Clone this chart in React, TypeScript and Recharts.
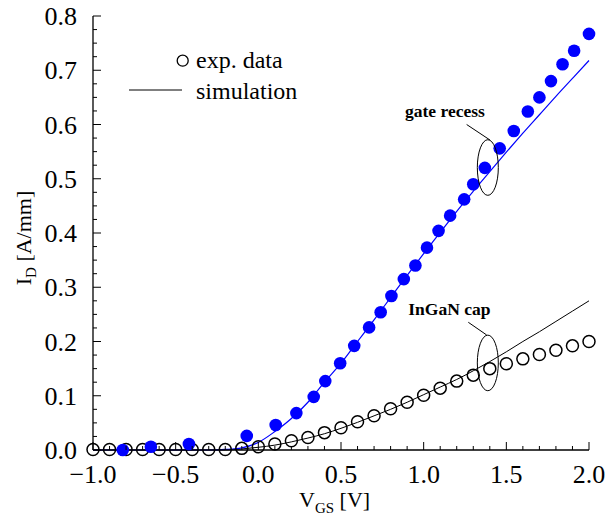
import React from 'react';
import {
  ComposedChart,
  Line,
  Scatter,
  XAxis,
  YAxis,
  ReferenceDot,
  ReferenceLine,
  Legend,
  Label,
} from 'recharts';

const FONT = '"Liberation Serif", "Times New Roman", serif';

// V_GS grid used by the simulation curves and the InGaN cap measurement
const simV = [
  -1.0, -0.9, -0.8, -0.7, -0.6, -0.5, -0.4, -0.3, -0.2, -0.1, 0.0, 0.1, 0.2, 0.3, 0.4, 0.5,
  0.6, 0.7, 0.8, 0.9, 1.0, 1.1, 1.2, 1.3, 1.4, 1.5, 1.6, 1.7, 1.8, 1.9, 2.0,
];
const gateRecessSim = [
  0, 0, 0, 0, 0, 0, 0, 0, 0.001, 0.004, 0.014, 0.034, 0.058, 0.088, 0.125, 0.16, 0.2, 0.24,
  0.281, 0.322, 0.362, 0.401, 0.44, 0.477, 0.513, 0.549, 0.584, 0.618, 0.652, 0.685, 0.718,
];
const inganCapSim = [
  0, 0, 0, 0, 0, 0, 0, 0, 0, 0.002, 0.005, 0.009, 0.015, 0.022, 0.03, 0.04, 0.051, 0.063,
  0.075, 0.088, 0.102, 0.116, 0.13, 0.146, 0.163, 0.181, 0.2, 0.218, 0.237, 0.256, 0.275,
];

// measured points
const inganCapExpV = simV;
const inganCapExp = [
  0.001, 0.001, 0.001, 0.001, 0.001, 0.001, 0.001, 0.001, 0.001, 0.003, 0.006, 0.011, 0.017,
  0.023, 0.032, 0.041, 0.052, 0.063, 0.076, 0.088, 0.101, 0.114, 0.127, 0.138, 0.15, 0.159,
  0.168, 0.176, 0.184, 0.192, 0.2,
];
const gateRecessExpV = [
  -0.82, -0.65, -0.42, -0.07, 0.105, 0.23, 0.335, 0.405, 0.495, 0.58, 0.67, 0.74, 0.805, 0.88,
  0.95, 1.02, 1.09, 1.16, 1.245, 1.3, 1.37, 1.46, 1.545, 1.63, 1.7, 1.77, 1.84, 1.91, 2.0,
];
const gateRecessExp = [
  0.0, 0.006, 0.011, 0.026, 0.046, 0.068, 0.098, 0.127, 0.16, 0.192, 0.226, 0.254, 0.284, 0.315,
  0.34, 0.373, 0.404, 0.432, 0.462, 0.49, 0.52, 0.556, 0.588, 0.624, 0.65, 0.68, 0.711, 0.736,
  0.767,
];

// axis ticks
const xTicks = [
  -1.0, -0.9, -0.8, -0.7, -0.6, -0.5, -0.4, -0.3, -0.2, -0.1, 0.0, 0.1, 0.2, 0.3, 0.4, 0.5,
  0.6, 0.7, 0.8, 0.9, 1.0, 1.1, 1.2, 1.3, 1.4, 1.5, 1.6, 1.7, 1.8, 1.9, 2.0,
];
const xMajor = [-1.0, -0.5, 0.0, 0.5, 1.0, 1.5, 2.0];
const xMajorLabels = ['\u22121.0', '\u22120.5', '0.0', '0.5', '1.0', '1.5', '2.0'];
const yTicks = [
  0, 0.025, 0.05, 0.075, 0.1, 0.125, 0.15, 0.175, 0.2, 0.225, 0.25, 0.275, 0.3, 0.325, 0.35,
  0.375, 0.4, 0.425, 0.45, 0.475, 0.5, 0.525, 0.55, 0.575, 0.6, 0.625, 0.65, 0.675, 0.7, 0.725,
  0.75, 0.775, 0.8,
];
const yMajor = [0, 0.1, 0.2, 0.3, 0.4, 0.5, 0.6, 0.7, 0.8];
const yMajorLabels = ['0.0', '0.1', '0.2', '0.3', '0.4', '0.5', '0.6', '0.7', '0.8'];

const toRows = (xs: number[], ys: number[]) => xs.map((v, k) => ({ v, i: ys[k] }));

type Side = 'bottom' | 'top' | 'left' | 'right';

const makeTick = (side: Side, majors: number[], labels: string[]) => (props: any) => {
  const { x, y, payload } = props;
  const v = payload.value as number;
  const mi = majors.findIndex((m) => Math.abs(m - v) < 1e-6);
  const len = mi >= 0 ? 8 : 4;
  let ln = { x1: x, y1: y, x2: x, y2: y };
  if (side === 'bottom') ln.y2 = y - len;
  if (side === 'top') ln.y2 = y + len;
  if (side === 'left') ln.x2 = x + len;
  if (side === 'right') ln.x2 = x - len;
  return (
    <g>
      <line {...ln} stroke="#000" strokeWidth={1} />
      {mi >= 0 && side === 'bottom' && (
        <text x={x} y={y + 33} textAnchor="middle" fontSize={26} fontFamily={FONT} fill="#000">
          {labels[mi]}
        </text>
      )}
      {mi >= 0 && side === 'left' && (
        <text x={x - 16} y={y} dy="0.35em" textAnchor="end" fontSize={26} fontFamily={FONT} fill="#000">
          {labels[mi]}
        </text>
      )}
    </g>
  );
};

const LegendBox = () => (
  <svg width={200} height={64}>
    <circle cx={62.7} cy={16.7} r={5.5} fill="none" stroke="#000" strokeWidth={1.3} />
    <text x={76} y={24.3} fontSize={24} fontFamily={FONT} fill="#000">
      exp. data
    </text>
    <line x1={9} y1={46} x2={62} y2={46} stroke="#000" strokeWidth={1} />
    <text x={76} y={55} fontSize={24} fontFamily={FONT} fill="#000">
      simulation
    </text>
  </svg>
);

const XTitle = () => (
  <text x={299} y={507} fontSize={22} fontFamily={FONT} fill="#000">
    V
    <tspan dy={5.5} fontSize={15}>
      GS
    </tspan>
    <tspan dy={-5.5}> [V]</tspan>
  </text>
);

const YTitle = () => (
  <text
    x={30.5}
    y={238}
    textAnchor="middle"
    transform="rotate(-90, 30.5, 238)"
    fontSize={22}
    fontFamily={FONT}
    fill="#000"
  >
    I
    <tspan dy={5.5} fontSize={15}>
      D
    </tspan>
    <tspan dy={-5.5}> [A/mm]</tspan>
  </text>
);

const ellipseShape = (props: any) => (
  <ellipse cx={props.cx} cy={props.cy} rx={10.5} ry={27.8} fill="none" stroke="#000" strokeWidth={1} />
);

const textShape = (txt: string) => (props: any) => (
  <text x={props.cx} y={props.cy} fontSize={17.5} fontWeight="bold" fontFamily={FONT} fill="#000">
    {txt}
  </text>
);

const OpenDot = (props: any) => (
  <circle cx={props.cx} cy={props.cy} r={6} fill="none" stroke="#000" strokeWidth={1.5} />
);
const FilledDot = (props: any) => <circle cx={props.cx} cy={props.cy} r={6.3} fill="#0000ff" />;

const axisStroke = { stroke: '#000', strokeWidth: 1.3 };

export default function App() {
  const blueSim = toRows(simV, gateRecessSim);
  const blackSim = toRows(simV, inganCapSim);
  const blueExp = toRows(gateRecessExpV, gateRecessExp);
  const blackExp = toRows(inganCapExpV, inganCapExp);

  return (
    <div style={{ position: 'absolute', left: 0, top: 0, background: '#fff' }}>
      <ComposedChart width={607} height={524} margin={{ top: 16, right: 18, bottom: 0, left: 0 }}>
        <XAxis
          dataKey="v"
          type="number"
          domain={[-1, 2]}
          ticks={xTicks}
          interval={0}
          height={74}
          tickSize={0}
          tickMargin={0}
          tickLine={false}
          axisLine={axisStroke}
          tick={makeTick('bottom', xMajor, xMajorLabels)}
        >
          <Label content={<XTitle />} />
        </XAxis>
        <XAxis
          xAxisId="top"
          orientation="top"
          type="number"
          domain={[-1, 2]}
          ticks={xTicks}
          interval={0}
          height={0}
          tickSize={0}
          tickMargin={0}
          tickLine={false}
          axisLine={axisStroke}
          tick={makeTick('top', xMajor, xMajorLabels)}
        />
        <YAxis
          type="number"
          domain={[0, 0.8]}
          ticks={yTicks}
          interval={0}
          width={93}
          tickSize={0}
          tickMargin={0}
          tickLine={false}
          axisLine={axisStroke}
          tick={makeTick('left', yMajor, yMajorLabels)}
        >
          <Label content={<YTitle />} />
        </YAxis>
        <YAxis
          yAxisId="right"
          orientation="right"
          type="number"
          domain={[0, 0.8]}
          ticks={yTicks}
          interval={0}
          width={0}
          tickSize={0}
          tickMargin={0}
          tickLine={false}
          axisLine={axisStroke}
          tick={makeTick('right', yMajor, yMajorLabels)}
        />

        <Line data={blackSim} dataKey="i" type="monotone" stroke="#000" strokeWidth={1} dot={false} isAnimationActive={false} />
        <Line data={blueSim} dataKey="i" type="monotone" stroke="#0000ff" strokeWidth={1.2} dot={false} isAnimationActive={false} />
        <Scatter data={blackExp} dataKey="i" shape={OpenDot} isAnimationActive={false} />
        <Scatter data={blueExp} dataKey="i" shape={FilledDot} isAnimationActive={false} />

        <ReferenceLine segment={[{ x: 1.26, y: 0.6 }, { x: 1.401, y: 0.5714 }]} stroke="#000" strokeWidth={1} />
        <ReferenceDot x={1.388} y={0.5207} shape={ellipseShape} />
        <ReferenceDot x={0.887} y={0.614} shape={textShape('gate recess')} />

        <ReferenceLine segment={[{ x: 1.27, y: 0.2354 }, { x: 1.381, y: 0.212 }]} stroke="#000" strokeWidth={1} />
        <ReferenceDot x={1.388} y={0.1605} shape={ellipseShape} />
        <ReferenceDot x={0.907} y={0.249} shape={textShape('InGaN cap')} />

        <Legend
          content={<LegendBox />}
          layout="vertical"
          align="center"
          verticalAlign="middle"
          wrapperStyle={{ left: 120, top: 44, width: 200, height: 64 }}
        />
      </ComposedChart>
    </div>
  );
}
